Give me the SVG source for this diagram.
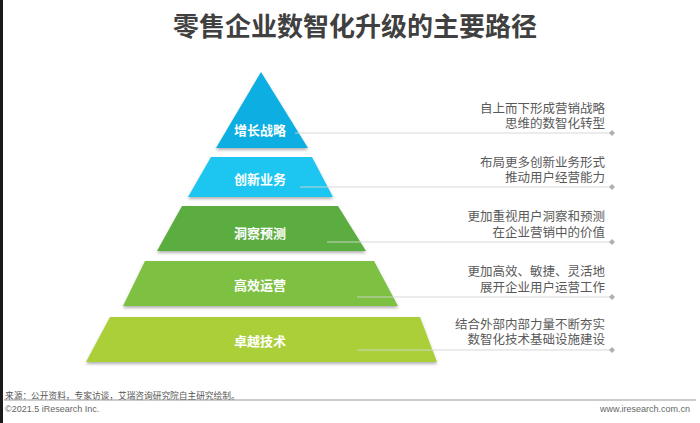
<svg xmlns="http://www.w3.org/2000/svg" width="700" height="423" viewBox="0 0 700 423">
  <style>
    .title{font-family:"Noto Sans CJK SC","Noto Sans",sans-serif;font-size:26px;font-weight:bold;fill:#404040;text-anchor:middle;dominant-baseline:central}
    .lbl{font-family:"Noto Sans CJK SC","Noto Sans",sans-serif;font-size:13px;font-weight:bold;fill:#ffffff;text-anchor:middle;dominant-baseline:central}
    .desc{font-family:"Liberation Sans","Noto Sans CJK SC",sans-serif;font-size:12.5px;fill:#595959;text-anchor:end;dominant-baseline:central}
    .conn{stroke:#d4d4d4;stroke-width:1;fill:none;opacity:0.9}
    .dia{fill:#b0b0b0}
    .foot{font-family:"Liberation Sans","Noto Sans CJK SC",sans-serif;font-size:9px;fill:#666666;dominant-baseline:central}
    .src{font-family:"Noto Sans CJK SC","Liberation Sans",sans-serif;font-size:8.7px;fill:#555555;dominant-baseline:central}
  </style>
  <defs>
    <filter id="sh" x="-10%" y="-10%" width="120%" height="130%">
      <feDropShadow dx="0" dy="2" stdDeviation="1.5" flood-color="#000" flood-opacity="0.3"/>
    </filter>
  </defs>
  <rect x="0" y="0" width="700" height="423" fill="#ffffff"/>
  <rect x="0" y="0" width="3" height="423" fill="#1a1a1a"/>
  <text class="title" x="355" y="24">零售企业数智化升级的主要路径</text>

  <g id="layer1">
    <polygon points="261,72 308,148 216,148" fill="#0BAEE2" filter="url(#sh)"/>
    <text class="lbl" x="260" y="129">增长战略</text>
  </g>
  <g id="layer2">
    <polygon points="211,157 312,157 333,197 188,197" fill="#1EC6F1" filter="url(#sh)"/>
    <text class="lbl" x="260" y="178">创新业务</text>
  </g>
  <g id="layer3">
    <polygon points="182,206 338,206 366,251 157,251" fill="#5BAD3F" filter="url(#sh)"/>
    <text class="lbl" x="260" y="232">洞察预测</text>
  </g>
  <g id="layer4">
    <polygon points="145,261 374,261 398,306 123,306" fill="#7EC143" filter="url(#sh)"/>
    <text class="lbl" x="260" y="284">高效运营</text>
  </g>
  <g id="layer5">
    <polygon points="110,317 420,317 437,362 86,362" fill="#AACF38" filter="url(#sh)"/>
    <text class="lbl" x="260" y="340">卓越技术</text>
  </g>

  <g id="connectors">
    <line class="conn" x1="295" y1="133" x2="612" y2="133"/>
    <line class="conn" x1="300" y1="187" x2="612" y2="187"/>
    <line class="conn" x1="327" y1="242" x2="612" y2="242"/>
    <line class="conn" x1="357" y1="297" x2="612" y2="297"/>
    <line class="conn" x1="357" y1="350" x2="612" y2="350"/>
    <polygon class="dia" points="612,130 615,133 612,136 609,133"/>
    <polygon class="dia" points="612,184 615,187 612,190 609,187"/>
    <polygon class="dia" points="612,239 615,242 612,245 609,242"/>
    <polygon class="dia" points="612,294 615,297 612,300 609,297"/>
    <polygon class="dia" points="612,347 615,350 612,353 609,350"/>
  </g>

  <g id="desc1">
    <text class="desc"><tspan x="605" y="108.5">自上而下形成营销战略</tspan><tspan x="605" y="124">思维的数智化转型</tspan></text>
  </g>
  <g id="desc2">
    <text class="desc"><tspan x="605" y="162.5">布局更多创新业务形式</tspan><tspan x="605" y="178">推动用户经营能力</tspan></text>
  </g>
  <g id="desc3">
    <text class="desc"><tspan x="605" y="217">更加重视用户洞察和预测</tspan><tspan x="605" y="233">在企业营销中的价值</tspan></text>
  </g>
  <g id="desc4">
    <text class="desc"><tspan x="605" y="272">更加高效、敏捷、灵活地</tspan><tspan x="605" y="288">展开企业用户运营工作</tspan></text>
  </g>
  <g id="desc5">
    <text class="desc"><tspan x="605" y="324.5">结合外部内部力量不断夯实</tspan><tspan x="605" y="340">数智化技术基础设施建设</tspan></text>
  </g>

  <g id="footer">
    <text class="src" x="5" y="395">来源：公开资料，专家访谈，艾瑞咨询研究院自主研究绘制。</text>
    <line x1="4" y1="400" x2="696" y2="400" stroke="#999999" stroke-width="1"/>
    <text class="foot" x="5" y="409">©2021.5 iResearch Inc.</text>
    <text class="foot" x="690" y="409" text-anchor="end">www.iresearch.com.cn</text>
  </g>
</svg>
